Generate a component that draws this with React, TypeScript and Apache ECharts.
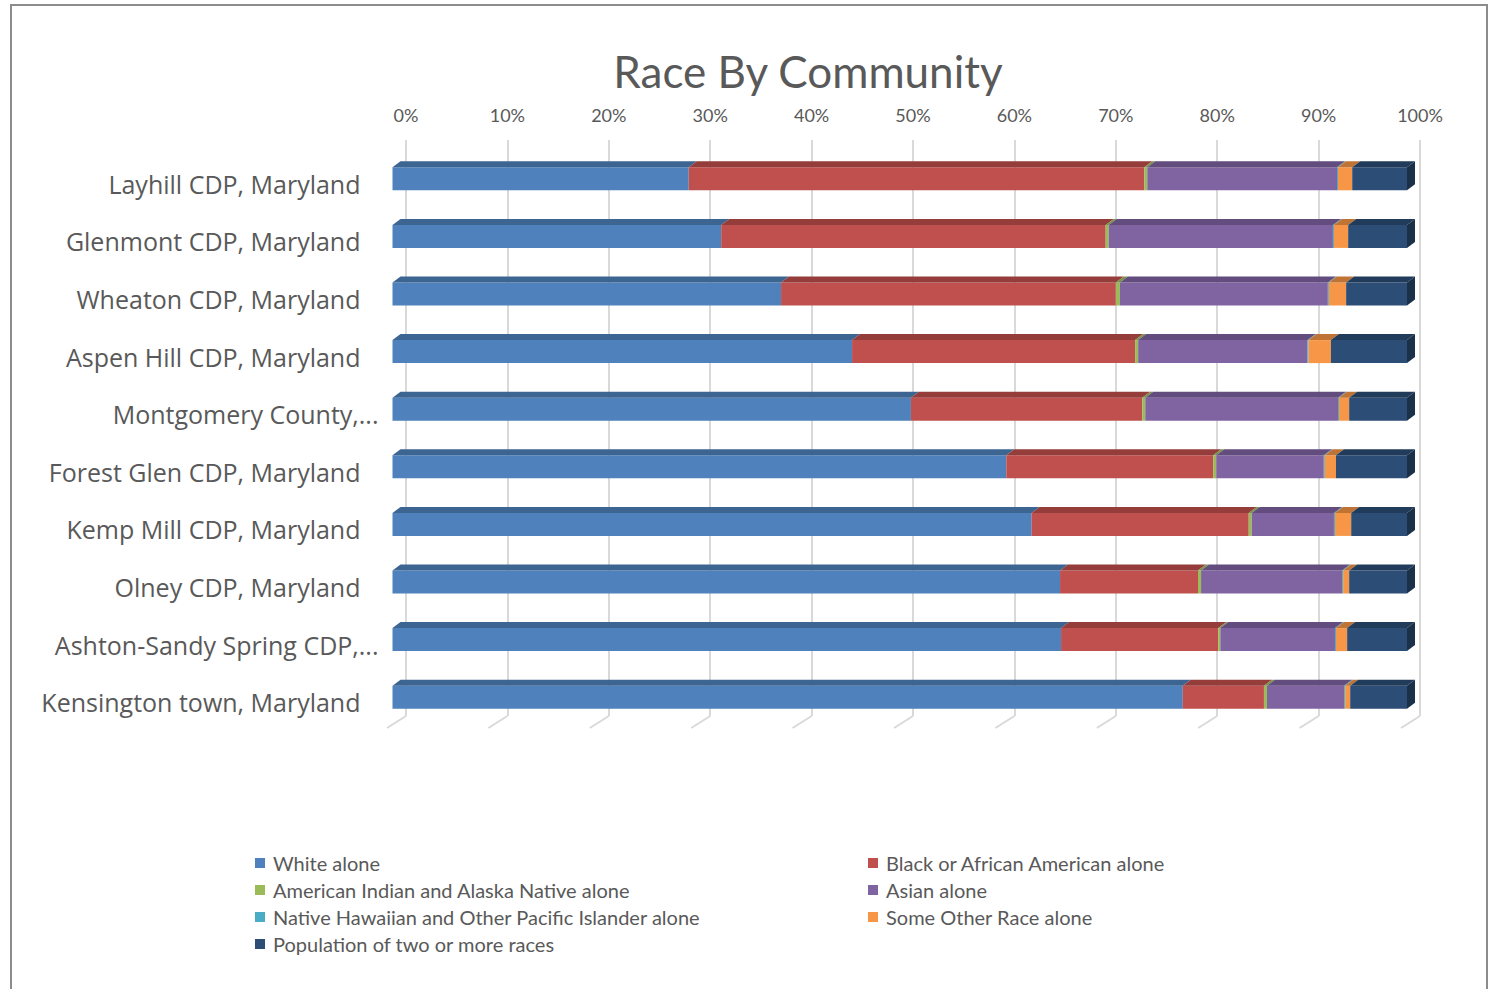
import React, { useEffect, useRef } from "react";
import * as echarts from "echarts";

const categories = [
  "Layhill CDP, Maryland",
  "Glenmont CDP, Maryland",
  "Wheaton CDP, Maryland",
  "Aspen Hill CDP, Maryland",
  "Montgomery County,...",
  "Forest Glen CDP, Maryland",
  "Kemp Mill CDP, Maryland",
  "Olney CDP, Maryland",
  "Ashton-Sandy Spring CDP,...",
  "Kensington town, Maryland",
];

const seriesNames = [
  "White alone",
  "Black or African American alone",
  "American Indian and Alaska Native alone",
  "Asian alone",
  "Native Hawaiian and Other Pacific Islander alone",
  "Some Other Race alone",
  "Population of two or more races",
];

const whiteAlone = [29.2, 32.4, 38.3, 45.3, 51.1, 60.5, 63.0, 65.8, 65.9, 77.9];
const blackAlone = [44.9, 37.9, 33.0, 27.9, 22.8, 20.4, 21.4, 13.6, 15.5, 8.0];
const amIndianAlone = [0.3, 0.3, 0.4, 0.3, 0.3, 0.3, 0.3, 0.3, 0.2, 0.3];
const asianAlone = [18.7, 22.1, 20.5, 16.7, 19.0, 10.6, 8.1, 13.9, 11.3, 7.6];
const hawaiianAlone = [0.1, 0.1, 0.1, 0.1, 0.1, 0.1, 0.1, 0.1, 0.1, 0.1];
const otherAlone = [1.4, 1.4, 1.7, 2.2, 1.0, 1.1, 1.6, 0.6, 1.1, 0.5];
const twoOrMore = [5.4, 5.8, 6.0, 7.5, 5.7, 7.0, 5.5, 5.7, 5.9, 5.6];

const tickValues = [0, 10, 20, 30, 40, 50, 60, 70, 80, 90, 100];

const frontColors = ["#4F81BD", "#C0504D", "#9BBB59", "#8064A2", "#4BACC6", "#F79646", "#2C4D75"];
const topColors = ["#3C6591", "#943D3B", "#789346", "#624D7E", "#3A869A", "#BF7436", "#213B5A"];
const sideColor = "#1B3049";

const FONT = "Lato, 'Noto Sans', sans-serif";
const LABEL_FONT = "'Open Sans', Lato, sans-serif";
const TXT = "#595959";

export default function App() {
  const ref = useRef<HTMLDivElement>(null);
  useEffect(() => {
    if (!ref.current) return;
    const chart = echarts.init(ref.current, undefined, { renderer: "svg" });
    const all = [whiteAlone, blackAlone, amIndianAlone, asianAlone, hawaiianAlone, otherAlone, twoOrMore];

    const faceData: number[][] = [];
    categories.forEach((_, i) => {
      let acc = 0;
      all.forEach((arr, s) => {
        faceData.push([acc, acc + arr[i], i, s]);
        acc += arr[i];
      });
    });

    const BAR_H = 23;
    const DX = 8;
    const DY = 6;

    const legendText = {
      fontFamily: FONT,
      fontSize: 20,
      color: TXT,
      lineHeight: 18,
      padding: [0, 0, 0, 3],
    };

    const labelStyle = { fontFamily: LABEL_FONT, fontSize: 25, color: TXT };

    const option: any = {
      animation: false,
      backgroundColor: "#ffffff",
      title: {
        text: "Race By Community",
        left: 803,
        top: 44,
        textAlign: "center",
        textStyle: { fontFamily: FONT, fontSize: 44, fontWeight: "normal", color: TXT },
      },
      graphic: [
        {
          type: "rect",
          shape: { x: 11, y: 5, width: 1476, height: 1010 },
          style: { fill: "none", stroke: "#8c8c8c", lineWidth: 2 },
          z: -10,
          silent: true,
        },
      ],
      legend: [
        {
          orient: "vertical",
          left: 250,
          top: 848,
          itemWidth: 10,
          itemHeight: 10,
          itemGap: 7,
          icon: "rect",
          data: [seriesNames[0], seriesNames[2], seriesNames[4], seriesNames[6]],
          textStyle: legendText,
        },
        {
          orient: "vertical",
          left: 863,
          top: 848,
          itemWidth: 10,
          itemHeight: 10,
          itemGap: 7,
          icon: "rect",
          data: [seriesNames[1], seriesNames[3], seriesNames[5]],
          textStyle: legendText,
        },
      ],
      grid: [
        { left: 406, width: 1014, top: 140, height: 576 },
        { left: 392.5, width: 1014.5, top: 150, height: 576 },
        { left: 392.5, width: 1014.5, top: 155, height: 576 },
      ],
      xAxis: [
        {
          gridIndex: 0,
          type: "value",
          position: "top",
          min: 0,
          max: 100,
          interval: 10,
          axisLine: { show: false },
          axisTick: { show: false },
          axisLabel: { formatter: "{value}%", fontFamily: FONT, fontSize: 18, color: TXT, margin: 16 },
          splitLine: { show: true, lineStyle: { color: "#D9D9D9", width: 2 } },
        },
        { gridIndex: 1, type: "value", min: 0, max: 100, show: false },
        { gridIndex: 2, type: "value", min: 0, max: 100, show: false },
      ],
      yAxis: [
        { gridIndex: 0, type: "value", min: 0, max: 1, show: false },
        {
          gridIndex: 1,
          type: "category",
          data: categories,
          inverse: true,
          axisLine: { show: false },
          axisTick: { show: false },
          axisLabel: { show: false },
        },
        {
          gridIndex: 2,
          type: "category",
          data: categories,
          inverse: true,
          axisLine: { show: false },
          axisTick: { show: false },
          axisLabel: {
            ...labelStyle,
            margin: 14,
            formatter: (v: string) => (v.endsWith("...") ? `{e|${v}}` : `{n|${v}}`),
            rich: {
              n: { ...labelStyle, padding: [0, 18, 0, 0] },
              e: { ...labelStyle },
            },
          },
        },
      ],
      series: [
        {
          type: "custom",
          xAxisIndex: 0,
          yAxisIndex: 0,
          silent: true,
          data: tickValues.map((v) => [v]),
          renderItem: (params: any, api: any) => {
            const p = api.coord([api.value(0), 0]);
            return {
              type: "line",
              shape: { x1: p[0], y1: p[1], x2: p[0] - 19, y2: p[1] + 12 },
              style: { stroke: "#D9D9D9", lineWidth: 2 },
            };
          },
          z: 1,
        },
        ...seriesNames.map((name, s) => ({
          type: "bar",
          name,
          stack: "total",
          xAxisIndex: 1,
          yAxisIndex: 1,
          barWidth: BAR_H,
          data: all[s],
          itemStyle: { color: frontColors[s] },
          z: 3,
        })),
        {
          type: "custom",
          xAxisIndex: 1,
          yAxisIndex: 1,
          silent: true,
          data: faceData,
          encode: { x: [0, 1], y: 2 },
          renderItem: (params: any, api: any) => {
            const s = api.value(3);
            const p0 = api.coord([api.value(0), api.value(2)]);
            const p1 = api.coord([api.value(1), api.value(2)]);
            const yTop = p0[1] - BAR_H / 2;
            const yBot = p0[1] + BAR_H / 2;
            const x0 = p0[0];
            const x1 = p1[0];
            const children: any[] = [
              {
                type: "polygon",
                shape: {
                  points: [
                    [x0, yTop],
                    [x1, yTop],
                    [x1 + DX, yTop - DY],
                    [x0 + DX, yTop - DY],
                  ],
                },
                style: { fill: topColors[s] },
              },
            ];
            if (s === 6) {
              children.push({
                type: "polygon",
                shape: {
                  points: [
                    [x1, yTop],
                    [x1 + DX, yTop - DY],
                    [x1 + DX, yBot - DY],
                    [x1, yBot],
                  ],
                },
                style: { fill: sideColor },
              });
            }
            return { type: "group", children };
          },
          z: 4,
        },
      ],
    };
    chart.setOption(option);
    return () => chart.dispose();
  }, []);
  return (
    <div
      ref={ref}
      style={{ position: "absolute", left: 0, top: 0, width: 1498, height: 989 }}
    />
  );
}
